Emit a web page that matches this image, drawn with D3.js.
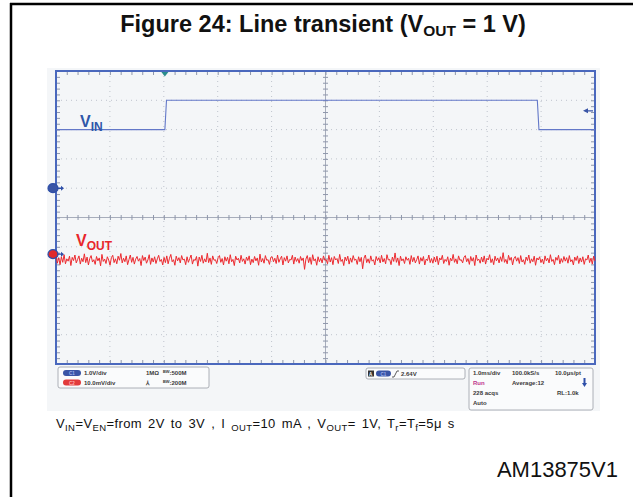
<!DOCTYPE html>
<html>
<head>
<meta charset="utf-8">
<script src="https://cdn.jsdelivr.net/npm/d3@7"></script>
<style>
  body { margin: 0; background: #fff; }
  text { font-family: "Liberation Sans", Arial, sans-serif; }
</style>
</head>
<body>
<div id="chart"></div>
<script>
// scope settings
var timeDomain = [0, 10];           // ms, 1.0 ms/div
var divDomain = [-5, 5];            // vertical divisions
var ch1Offset = 1;                  // div, ground marker of C1
var ch1VoltsPerDiv = 1.0;
var ch2Offset = -1.25;              // div, ground marker of C2
var ch2MvPerDiv = 10;
var triggerTime = 2.02;             // ms
var triggerLevel = 2.64;            // V

// VIN step (V)
var vinTimes  = [0, 2.02, 2.05, 8.93, 8.96, 10];
var vinValues = [2.0, 2.0, 3.0, 3.0, 2.0, 2.0];

// VOUT ripple (mV, relative to C2 marker)
var voutMv = [
  -0.4,-3.1,-1.2,-3.6,-0.9,-2.8,-0.2,-3.3,-1.6,-2.4,-0.7,-3.9,-1.1,-2.2,-0.3,-3.0,-1.8,-0.6,-3.4,-1.4,
  -2.6,0.1,-2.9,-1.0,-3.7,-1.5,-0.5,-2.7,-1.9,-3.5,-0.8,-2.3,-1.3,-4.0,-0.1,-2.5,-1.7,-3.2,-0.9,-2.0,
  -3.8,-1.2,-0.4,-2.9,-1.6,-3.3,-0.7,-2.1,0.2,-3.0,-1.4,-2.6,-0.6,-3.6,-1.9,-0.3,-2.8,-1.1,-3.4,-1.7,
  -0.8,-2.4,-1.5,-3.9,-0.5,-2.2,-1.0,-3.1,-2.0,-0.2,-3.5,-1.3,-2.7,-0.9,-3.2,-1.6,-0.4,-2.5,-1.8,-3.7,
  -1.1,-2.9,-0.6,-3.3,-1.4,-0.1,-2.6,-1.9,-3.8,-0.7,-2.3,-1.2,-3.0,-0.5,-2.0,-1.7,-3.6,-0.9,-2.8,-1.5,
  -0.3,-3.4,-1.8,-2.2,-0.8,-4.1,-1.0,-2.5,-0.4,-3.1,-1.6,-2.7,0.3,-2.9,-1.3,-3.5,-0.6,-2.1,-1.9,-3.2,
  -1.2,-0.5,-2.8,-1.5,-3.7,-0.9,-2.4,-1.1,-3.3,-0.2,-2.6,-1.8,-3.9,-0.7,-2.0,-1.4,-3.0,-0.4,-2.5,-1.6,
  -3.4,-1.0,-2.2,-0.6,-3.6,-1.7,-2.9,-0.8,-2.3,-1.3,-3.8,0.0,-2.7,-1.5,-3.1,-0.5,-2.1,-1.9,-3.5,-1.1,
  -0.9,-2.6,-1.4,-3.2,-0.3,-2.8,-1.6,-0.7,-3.7,-1.2,-2.4,-0.6,-3.0,-1.8,-2.0,-0.4,-3.4,-1.0,-2.5,-1.5,
  -3.1,-0.8,-2.2,-1.3,-5.2,-1.7,-0.5,-2.9,-1.1,-3.5,-0.2,-2.3,-1.6,-3.8,-0.9,-2.6,-1.4,-3.0,-0.6,-2.1,
  -1.9,-3.3,-0.4,-2.7,-1.2,-3.6,-0.8,-2.0,-1.5,-3.2,-0.1,-2.5,-1.8,-3.9,-1.0,-2.3,-0.7,-3.4,-1.3,-2.8,
  -0.5,-2.1,-1.7,-3.5,-0.9,-2.6,-1.1,-5.0,-1.4,-0.3,-2.9,-1.6,-3.1,-0.6,-2.4,-1.9,-3.7,-0.8,-2.2,-1.2,
  -3.0,-0.4,-2.7,-1.5,-3.3,-0.2,-2.0,-1.8,-3.6,-1.0,-2.5,0.4,-2.8,-1.3,-3.9,-0.7,-2.3,-1.6,-3.2,-0.9,
  -2.1,-1.4,-3.5,-0.5,-2.6,-1.1,-3.0,-1.9,-0.6,-3.4,-1.2,-2.4,-0.8,-3.7,-1.7,-2.2,-0.3,-2.9,-1.5,-3.1,
  -1.0,-2.7,-0.7,-3.6,-1.3,-2.0,-0.4,-3.2,-1.8,-2.5,-0.9,-3.8,-1.4,-2.3,-0.1,-2.8,-1.6,-3.3,-0.6,-2.1,
  -1.9,-3.0,-1.1,-0.5,-2.6,-1.5,-3.5,-0.8,-2.4,-1.2,-3.9,-0.3,-2.2,-1.7,-3.1,-1.0,-2.7,-0.6,-3.4,-1.4,
  -2.0,-0.2,-2.9,-1.6,-3.6,-0.7,-2.3,-1.3,-3.0,-0.9,-2.5,0.5,-2.8,-1.8,-3.3,-0.4,-2.1,-1.1,-3.7,-1.5,
  -0.8,-2.4,-1.2,-3.2,-0.5,-2.7,-1.9,-3.5,-1.0,-2.2,-0.3,-3.1,-1.6,-2.6,-0.7,-3.8,-1.3,-2.0,-0.9,-2.9,
  -1.7,-3.4,-0.6,-2.3,-1.4,-3.0,-0.2,-2.5,-1.8,-3.6,-1.1,-2.1,-0.4,-3.3,-1.5,-2.8,-0.8,-2.4,-1.2,-3.1,
  -0.5,-2.6,-1.9,-3.7,-1.0,-2.2,-0.6,-3.2,-1.3,-2.7,-0.9,-3.5,-1.6,-2.0,-0.3,-2.9,-1.4,-3.4,-0.7,-2.3
];

// readout boxes
var chanRows = [
  { ch: "C1", color: "#3a55a6", scale: "1.0V/div", imp: "1MΩ", bw: "500M" },
  { ch: "C2", color: "#e23b3b", scale: "10.0mV/div", imp: "⅄", bw: "200M" }
];
var timeRows = [
  ["1.0ms/div", "100.0kS/s", "10.0μs/pt"],
  ["Run", "Average:12", ""],
  ["228 acqs", "", "RL:1.0k"],
  ["Auto", "", ""]
];

var W = 633, H = 497;
var svg = d3.select("#chart").append("svg")
  .attr("width", W).attr("height", H);

// page border (top + left)
svg.append("line").attr("x1", 10).attr("x2", W).attr("y1", 4).attr("y2", 4)
  .attr("stroke", "#000").attr("stroke-width", 2.5);
svg.append("line").attr("x1", 11).attr("x2", 11).attr("y1", 3).attr("y2", H)
  .attr("stroke", "#000").attr("stroke-width", 2.5);

// title
var title = svg.append("text").attr("x", 323).attr("y", 32)
  .attr("text-anchor", "middle").attr("font-weight", "bold").attr("font-size", 23.5)
  .attr("fill", "#111");
title.append("tspan").text("Figure 24: Line transient (V");
title.append("tspan").attr("font-size", 15.5).attr("dy", 4).text("OUT");
title.append("tspan").attr("dy", -4).text(" = 1 V)");

// screen panel
svg.append("rect").attr("x", 47).attr("y", 68).attr("width", 553).attr("height", 343)
  .attr("fill", "#f4f6f8");

var x = d3.scaleLinear().domain(timeDomain).range([56, 595]);
var y = d3.scaleLinear().domain(divDomain).range([364, 71]);

var g = svg.append("g");

// dotted grid
d3.range(1, 10).filter(function (d) { return d !== 5; }).forEach(function (d) {
  g.append("line").attr("x1", x(d)).attr("x2", x(d)).attr("y1", y(5)).attr("y2", y(-5))
    .attr("stroke", "#bfc4cd").attr("stroke-width", 1).attr("stroke-dasharray", "1,4");
});
d3.range(-4, 5).filter(function (d) { return d !== 0; }).forEach(function (d) {
  g.append("line").attr("x1", x(0)).attr("x2", x(10)).attr("y1", y(d)).attr("y2", y(d))
    .attr("stroke", "#bfc4cd").attr("stroke-width", 1).attr("stroke-dasharray", "1,4");
});

// centre cross
g.append("line").attr("x1", x(5)).attr("x2", x(5)).attr("y1", y(5)).attr("y2", y(-5))
  .attr("stroke", "#a7adbb").attr("stroke-width", 1);
g.append("line").attr("x1", x(0)).attr("x2", x(10)).attr("y1", y(0)).attr("y2", y(0))
  .attr("stroke", "#a7adbb").attr("stroke-width", 1);

// minor ticks via axes
var tickColor = "#8f97ab";
function styleTicks(sel) {
  sel.select(".domain").remove();
  sel.selectAll("line").attr("stroke", tickColor);
  sel.selectAll("text").remove();
}
var xMinor = d3.range(0, 10.001, 0.2);
var yMinor = d3.range(-5, 5.001, 0.2);
g.append("g").attr("transform", "translate(0," + y(5) + ")")
  .call(d3.axisBottom(x).tickValues(xMinor).tickSize(4)).call(styleTicks);
g.append("g").attr("transform", "translate(0," + y(-5) + ")")
  .call(d3.axisTop(x).tickValues(xMinor).tickSize(4)).call(styleTicks);
g.append("g").attr("transform", "translate(" + x(0) + ",0)")
  .call(d3.axisRight(y).tickValues(yMinor).tickSize(4)).call(styleTicks);
g.append("g").attr("transform", "translate(" + x(10) + ",0)")
  .call(d3.axisLeft(y).tickValues(yMinor).tickSize(4)).call(styleTicks);
g.append("g").attr("transform", "translate(0," + (y(0) - 2.5) + ")")
  .call(d3.axisBottom(x).tickValues(xMinor).tickSize(5)).call(styleTicks);
g.append("g").attr("transform", "translate(" + (x(5) - 2.5) + ",0)")
  .call(d3.axisRight(y).tickValues(yMinor).tickSize(5)).call(styleTicks);

// frame
g.append("rect").attr("x", x(0)).attr("y", y(5)).attr("width", x(10) - x(0)).attr("height", y(-5) - y(5))
  .attr("fill", "none").attr("stroke", "#4a68bd").attr("stroke-width", 2);

// traces
var vinLine = d3.line()
  .x(function (d, i) { return x(vinTimes[i]); })
  .y(function (d) { return y(ch1Offset + d / ch1VoltsPerDiv); });
g.append("path").attr("d", vinLine(vinValues))
  .attr("fill", "none").attr("stroke", "#6378c8").attr("stroke-width", 1.1);

var step = (timeDomain[1] - timeDomain[0]) / (voutMv.length - 1);
var voutLine = d3.line()
  .x(function (d, i) { return x(timeDomain[0] + i * step); })
  .y(function (d) { return y(ch2Offset + d / ch2MvPerDiv); });
g.append("path").attr("d", voutLine(voutMv))
  .attr("fill", "none").attr("stroke", "#ec2a2f").attr("stroke-width", 1);

// markers
g.append("path").attr("transform", "translate(" + x(triggerTime) + "," + (y(5) + 1) + ")")
  .attr("d", "M-3.5,0 L3.5,0 L0,4.5 Z").attr("fill", "#2a8c8c");
g.append("path").attr("transform", "translate(" + (x(10) - 6) + "," + y(ch1Offset + triggerLevel / ch1VoltsPerDiv) + ")")
  .attr("d", "M-6,0 L-1,-2.5 L-1,2.5 Z M-1,-0.6 L4,-0.6 L4,0.6 L-1,0.6 Z").attr("fill", "#3a55a6");
function chanMarker(yy, fill) {
  var m = g.append("g").attr("transform", "translate(" + (x(0) - 3) + "," + yy + ")");
  m.append("ellipse").attr("rx", 5).attr("ry", 4.5).attr("fill", fill)
    .attr("stroke", "#2e4fa8").attr("stroke-width", 1.2);
  m.append("path").attr("d", "M4,-0.7 L8,-0.7 L8,-2.5 L11,0 L8,2.5 L8,0.7 L4,0.7 Z").attr("fill", "#2e4fa8");
}
chanMarker(y(ch1Offset), "#3a55a6");
chanMarker(y(ch2Offset), "#e02a2a");

// trace labels
var vinLab = g.append("text").attr("x", 80).attr("y", 127)
  .attr("font-weight", "bold").attr("font-size", 16).attr("fill", "#2f56a8");
vinLab.append("tspan").text("V");
vinLab.append("tspan").attr("font-size", 12).attr("dy", 4).text("IN");

var voutLab = g.append("text").attr("x", 76).attr("y", 246)
  .attr("font-weight", "bold").attr("font-size", 16).attr("fill", "#e8262c");
voutLab.append("tspan").text("V");
voutLab.append("tspan").attr("font-size", 12).attr("dy", 4).text("OUT");

// readout boxes
var info = svg.append("g").attr("font-size", 6).attr("font-weight", "bold").attr("fill", "#3a3a3a");
function box(x0, y0, w, h) {
  info.append("rect").attr("x", x0).attr("y", y0).attr("width", w).attr("height", h)
    .attr("rx", 2).attr("fill", "#fafbfc").attr("stroke", "#9a9ea6").attr("stroke-width", 0.8);
}
box(58, 367, 151, 21);
chanRows.forEach(function (r, i) {
  var yy = 373 + i * 9.5;
  info.append("rect").attr("x", 63).attr("y", yy - 3).attr("width", 18).attr("height", 6)
    .attr("rx", 3).attr("fill", r.color);
  info.append("text").attr("x", 72).attr("y", yy + 2).attr("text-anchor", "middle")
    .attr("font-size", 4.5).attr("fill", r.color === "#3a55a6" ? "#9fb2ea" : "#ffb0b0").text(r.ch);
  info.append("text").attr("x", 84).attr("y", yy + 2).text(r.scale);
  info.append("text").attr("x", 146).attr("y", yy + 2).text(r.imp);
  info.append("text").attr("x", 163).attr("y", yy + 2).text("ᴮᵂ:" + r.bw);
});

box(366, 368, 99, 11);
info.append("rect").attr("x", 368).attr("y", 370.5).attr("width", 6).attr("height", 6).attr("fill", "#333");
info.append("text").attr("x", 369).attr("y", 375.5).attr("font-size", 4.5).attr("fill", "#fff").text("A");
info.append("rect").attr("x", 376).attr("y", 370.5).attr("width", 15).attr("height", 6).attr("rx", 3).attr("fill", "#3a55a6");
info.append("text").attr("x", 383.5).attr("y", 375.5).attr("text-anchor", "middle").attr("font-size", 4.5)
  .attr("fill", "#9fb2ea").text("C1");
info.append("path").attr("d", "M392,377 L394,377 L397,371 L399,371").attr("fill", "none")
  .attr("stroke", "#333").attr("stroke-width", 0.8);
info.append("text").attr("x", 401).attr("y", 376).text(triggerLevel.toFixed(2) + "V");

box(469, 368, 124, 42);
var colX = [473, 512, 555];
timeRows.forEach(function (row, i) {
  row.forEach(function (t, j) {
    if (!t) return;
    info.append("text").attr("x", colX[j] + (i === 2 && j === 2 ? 2 : 0)).attr("y", 375 + i * 10)
      .attr("fill", t === "Run" ? "#c0368c" : "#3a3a3a").text(t);
  });
});
info.append("path").attr("d", "M583.5,378 L585.5,378 L585.5,383 L587,383 L584.5,387 L582,383 L583.5,383 Z")
  .attr("fill", "#2e4fa8");

// caption
var cap = svg.append("text").attr("x", 56).attr("y", 428).attr("font-size", 13)
  .attr("fill", "#111").attr("letter-spacing", 0.4).attr("word-spacing", 2);
function sub(t) { cap.append("tspan").attr("font-size", 9.5).attr("dy", 2.5).text(t); }
function main(t) { cap.append("tspan").attr("dy", -2.5).text(t); }
cap.append("tspan").text("V"); sub("IN"); main("=V"); sub("EN");
main("=from  2V  to  3V  , I "); sub("OUT"); main("=10 mA , V"); sub("OUT");
main("= 1V, T"); sub("r"); main("=T"); sub("f"); main("=5μ s");

// document id
svg.append("text").attr("x", 618).attr("y", 477).attr("text-anchor", "end")
  .attr("font-size", 22).attr("fill", "#111").text("AM13875V1");
</script>
</body>
</html>
